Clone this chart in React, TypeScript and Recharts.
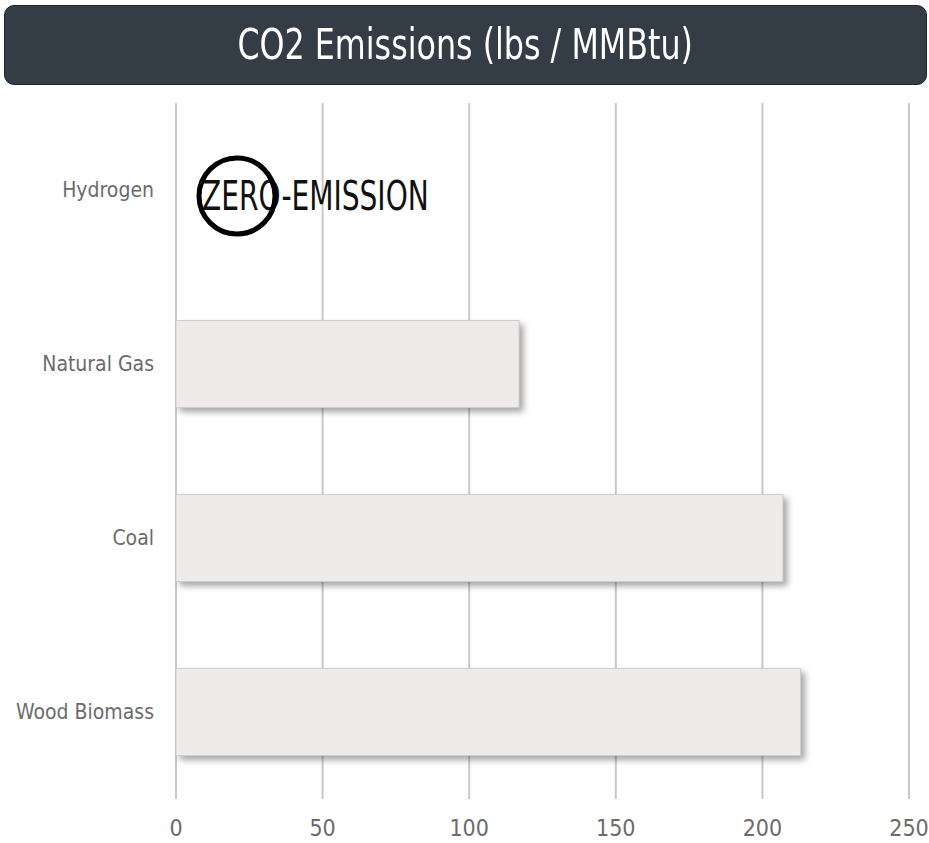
import { Bar, BarChart, CartesianGrid, LabelList, XAxis, YAxis } from "recharts";

const fuels = ["Hydrogen", "Natural Gas", "Coal", "Wood Biomass"];
const emissions = [0, 117, 207, 213];
const xTicks = [0, 50, 100, 150, 200, 250];
const title = "CO2 Emissions (lbs / MMBtu)";
const zeroNote = "ZERO-EMISSION";

const data = fuels.map((name, i) => ({ name, value: emissions[i] }));

const FONT = "'DejaVu Sans', sans-serif";
const narrow = { fontStretch: "condensed" as const };

function ShadowBar(props: any) {
  const { x, y, width, height } = props;
  if (!width || width <= 0) return null;
  return (
    <rect
      x={x}
      y={y}
      width={width}
      height={height}
      fill="#efebea"
      stroke="#cdcdcd"
      strokeWidth={1}
      style={{ filter: "drop-shadow(4px 4px 3px rgba(0,0,0,0.35))" }}
    />
  );
}

// circled "ZERO" note drawn on the bars whose value is 0
function ZeroNote(props: any) {
  const { x, y, height, value } = props;
  if (value !== 0) return null;
  const cy = y + height / 2 + 6;
  return (
    <g>
      <text
        transform={`translate(${x + 26}, ${cy}) scale(0.78, 1)`}
        dominantBaseline="central"
        fontFamily={FONT}
        fontSize={40}
        fill="#111"
        style={narrow}
      >
        {zeroNote}
      </text>
      <circle cx={x + 61} cy={cy} r={38} fill="none" stroke="#000" strokeWidth={5} />
    </g>
  );
}

export default function App() {
  return (
    <div
      style={{
        position: "absolute",
        left: 0,
        top: 0,
        width: 929,
        height: 843,
        background: "#fff",
        fontFamily: FONT,
      }}
    >
      <div
        style={{
          position: "absolute",
          left: 4,
          top: 5,
          width: 921,
          height: 78,
          background: "#343c46",
          border: "1px solid #1b2630",
          borderRadius: 10,
          color: "#fff",
          fontSize: 42,
          lineHeight: "78px",
          textAlign: "center",
          ...narrow,
        }}
      >
        <span style={{ display: "inline-block", transform: "scale(0.84, 1)", whiteSpace: "nowrap" }}>
          {title}
        </span>
      </div>
      <div style={{ position: "absolute", left: 0, top: 0 }}>
        <BarChart
          width={929}
          height={843}
          data={data}
          layout="vertical"
          margin={{ top: 103, right: 20, left: 0, bottom: 0 }}
          barCategoryGap="25%"
        >
          <CartesianGrid horizontal={false} stroke="#c8c8c8" strokeWidth={2} />
          <XAxis
            type="number"
            domain={[0, 250]}
            ticks={xTicks}
            height={44}
            axisLine={false}
            tickLine={false}
            tickMargin={15}
            tick={{ fill: "#6b6b6b", fontSize: 23, fontFamily: FONT, style: narrow }}
          />
          <YAxis
            type="category"
            dataKey="name"
            width={176}
            axisLine={false}
            tickLine={false}
            tickMargin={16}
            tick={{ fill: "#6b6b6b", fontSize: 21, fontFamily: FONT, style: narrow }}
          />
          <Bar dataKey="value" shape={ShadowBar} isAnimationActive={false}>
            <LabelList dataKey="value" content={ZeroNote} />
          </Bar>
        </BarChart>
      </div>
    </div>
  );
}
